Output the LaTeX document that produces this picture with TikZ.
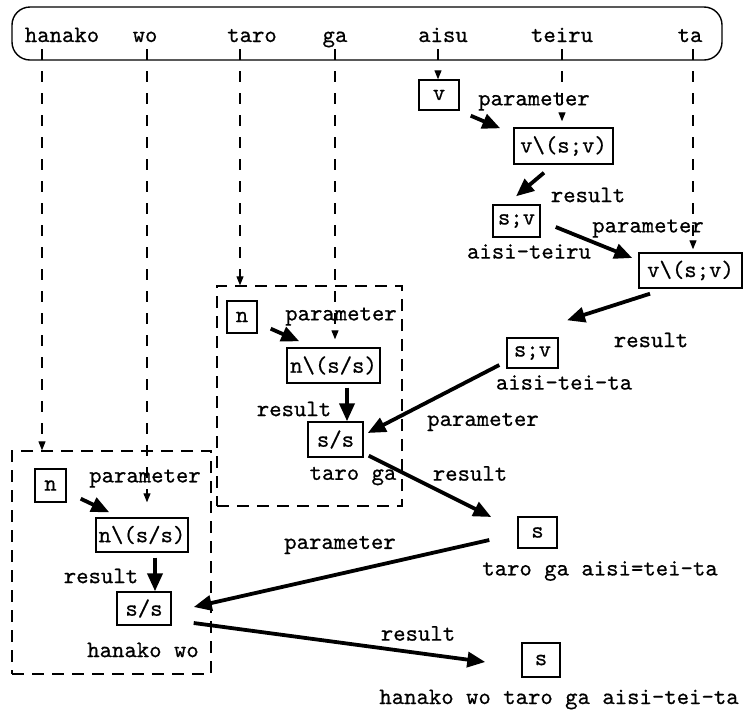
\documentclass[tikz,border=0pt]{standalone}
\usepackage{fontspec}
\newfontfamily\cfont[FakeBold=0.6]{lmmono10-regular.otf}
\usetikzlibrary{arrows.meta}
\begin{document}
\begin{tikzpicture}[x=1pt,y=-1pt,
  txt/.style={font=\cfont\fontsize{23.6}{26}\selectfont, inner sep=0pt},
  cat/.style={txt, draw, line width=1.4pt},
  grp/.style={draw, line width=1.3pt, dash pattern=on 12pt off 8pt, inner sep=0pt},
  feed/.style={line width=1.1pt, dash pattern=on 11pt off 11pt, -{Triangle[length=9pt,width=7pt]}},
  comb/.style={line width=3.8pt, -{Triangle[length=18pt,width=15pt]}},
]
\useasboundingbox (0,0) rectangle (743,710);

% top sentence box
\node[draw, line width=1.4pt, rounded corners=18pt, minimum width=710pt, minimum height=53pt, inner sep=0pt] (tb) at (367,33.5) {};
\node[txt, anchor=base] (w1) at (62,42) {hanako};
\node[txt, anchor=base] (w2) at (145,42) {wo};
\node[txt, anchor=base] (w3) at (252,42) {taro};
\node[txt, anchor=base] (w4) at (335,42) {ga};
\node[txt, anchor=base] (w5) at (443,42) {aisu};
\node[txt, anchor=base] (w6) at (562,42) {teiru};
\node[txt, anchor=base] (w7) at (690,42) {ta};
\coordinate (t1) at (42,49);
\coordinate (t2) at (147,49);
\coordinate (t3) at (240,49);
\coordinate (t4) at (335,49);
\coordinate (t5) at (438,49);
\coordinate (t6) at (562,49);
\coordinate (t7) at (693,49);

% group boxes
\node[grp, minimum width=185pt, minimum height=220pt] (g1) at (309.5,396) {};
\node[grp, minimum width=199pt, minimum height=223pt] (g2) at (111.5,562.5) {};

% category boxes
\node[cat, minimum width=40pt, minimum height=30pt] (v) at (439,95) {v};
\node[cat, minimum width=99pt, minimum height=36pt] (vsv1) at (563.5,146) {v\textbackslash(s;v)};
\node[cat, minimum width=47pt, minimum height=32pt] (sv1) at (516.5,221) {s;v};
\node[cat, minimum width=103pt, minimum height=35pt] (vsv2) at (690.5,270.5) {v\textbackslash(s;v)};
\node[cat, minimum width=51pt, minimum height=30pt] (sv2) at (532.5,353) {s;v};
\node[cat, minimum width=30pt, minimum height=32pt] (n1) at (242,317) {n};
\node[cat, minimum width=93pt, minimum height=35pt] (nss1) at (333.5,365.5) {n\textbackslash(s/s)};
\node[cat, minimum width=55pt, minimum height=35pt] (ss1) at (335.5,439.5) {s/s};
\node[cat, minimum width=39pt, minimum height=31pt] (s1) at (537.5,532.5) {s};
\node[cat, minimum width=31pt, minimum height=33pt] (n2) at (50.5,485.5) {n};
\node[cat, minimum width=92pt, minimum height=34pt] (nss2) at (142,535) {n\textbackslash(s/s)};
\node[cat, minimum width=54pt, minimum height=33pt] (ss2) at (144,608.5) {s/s};
\node[cat, minimum width=38pt, minimum height=34pt] (s2) at (541,660) {s};

% labels
\node[txt] (l1) at (534,101.5) {parameter};
\node[txt] (l2) at (588,195) {result};
\node[txt] (l3) at (529,251.5) {aisi-teiru};
\node[txt] (l4) at (648,228.5) {parameter};
\node[txt] (l5) at (651,340) {result};
\node[txt] (l6) at (564,382.5) {aisi-tei-ta};
\node[txt] (l7) at (483,422) {parameter};
\node[txt] (l8) at (470,473.5) {result};
\node[txt] (l9) at (600,571) {taro ga aisi=tei-ta};
\node[txt] (l10) at (340,545) {parameter};
\node[txt] (l11) at (418,633.5) {result};
\node[txt] (l12) at (559,699.5) {hanako wo taro ga aisi-tei-ta};
\node[txt] (l13) at (341,316.5) {parameter};
\node[txt] (l14) at (294,409) {result};
\node[txt] (l15) at (353,476) {taro ga};
\node[txt] (l16) at (145,478.5) {parameter};
\node[txt] (l17) at (101,576) {result};
\node[txt] (l18) at (143,650) {hanako wo};

% dashed feeds from the words
\draw[feed] (t1) -- (t1 |- g2.north);
\draw[feed] (t2) -- ([yshift=15pt]t2 |- nss2.north);
\draw[feed] (t3) -- (t3 |- g1.north);
\draw[feed] (t4) -- ([yshift=8pt]t4 |- nss1.north);
\draw[feed] (t5) -- (t5 |- v.north);
\draw[feed] (t6) -- ([yshift=6pt]t6 |- vsv1.north);
\draw[feed] (t7) -- ([yshift=3pt]t7 |- vsv2.north);

% combination arrows
\draw[comb] ([shift={(11,5)}]v.south east) -- ([shift={(-13,1)}]vsv1.north west);
\draw[comb] ([shift={(-19.5,8)}]vsv1.south) -- ([shift={(-0.5,-8)}]sv1.north);
\draw[comb] ([shift={(15,6)}]sv1.east) -- ([shift={(-6,-12.5)}]vsv2.west);
\draw[comb] ([shift={(-40.5,5)}]vsv2.south) -- ([shift={(34.5,-17)}]sv2.north);
\draw[comb] ([shift={(-7,12)}]sv2.west) -- ([shift={(4,-6.5)}]ss1.east);
\draw[comb] ([shift={(5,-2)}]ss1.south east) -- ([shift={(-26,-15.5)}]s1.west);
\draw[comb] ([shift={(-28,7.5)}]s1.west) -- ([shift={(22,-1.5)}]ss2.east);
\draw[comb] ([shift={(22,14.5)}]ss2.east) -- ([shift={(-36,2)}]s2.west);
\draw[comb] ([shift={(13,-5)}]n1.south east) -- ([shift={(13,-6)}]nss1.north west);
\draw[comb] ([shift={(13.5,4)}]nss1.south) -- ([shift={(11.5,0)}]ss1.north);
\draw[comb] ([shift={(14,-4)}]n2.south east) -- ([shift={(14,-5)}]nss2.north west);
\draw[comb] ([shift={(13,5)}]nss2.south) -- ([shift={(11,0)}]ss2.north);
\end{tikzpicture}
\end{document}
